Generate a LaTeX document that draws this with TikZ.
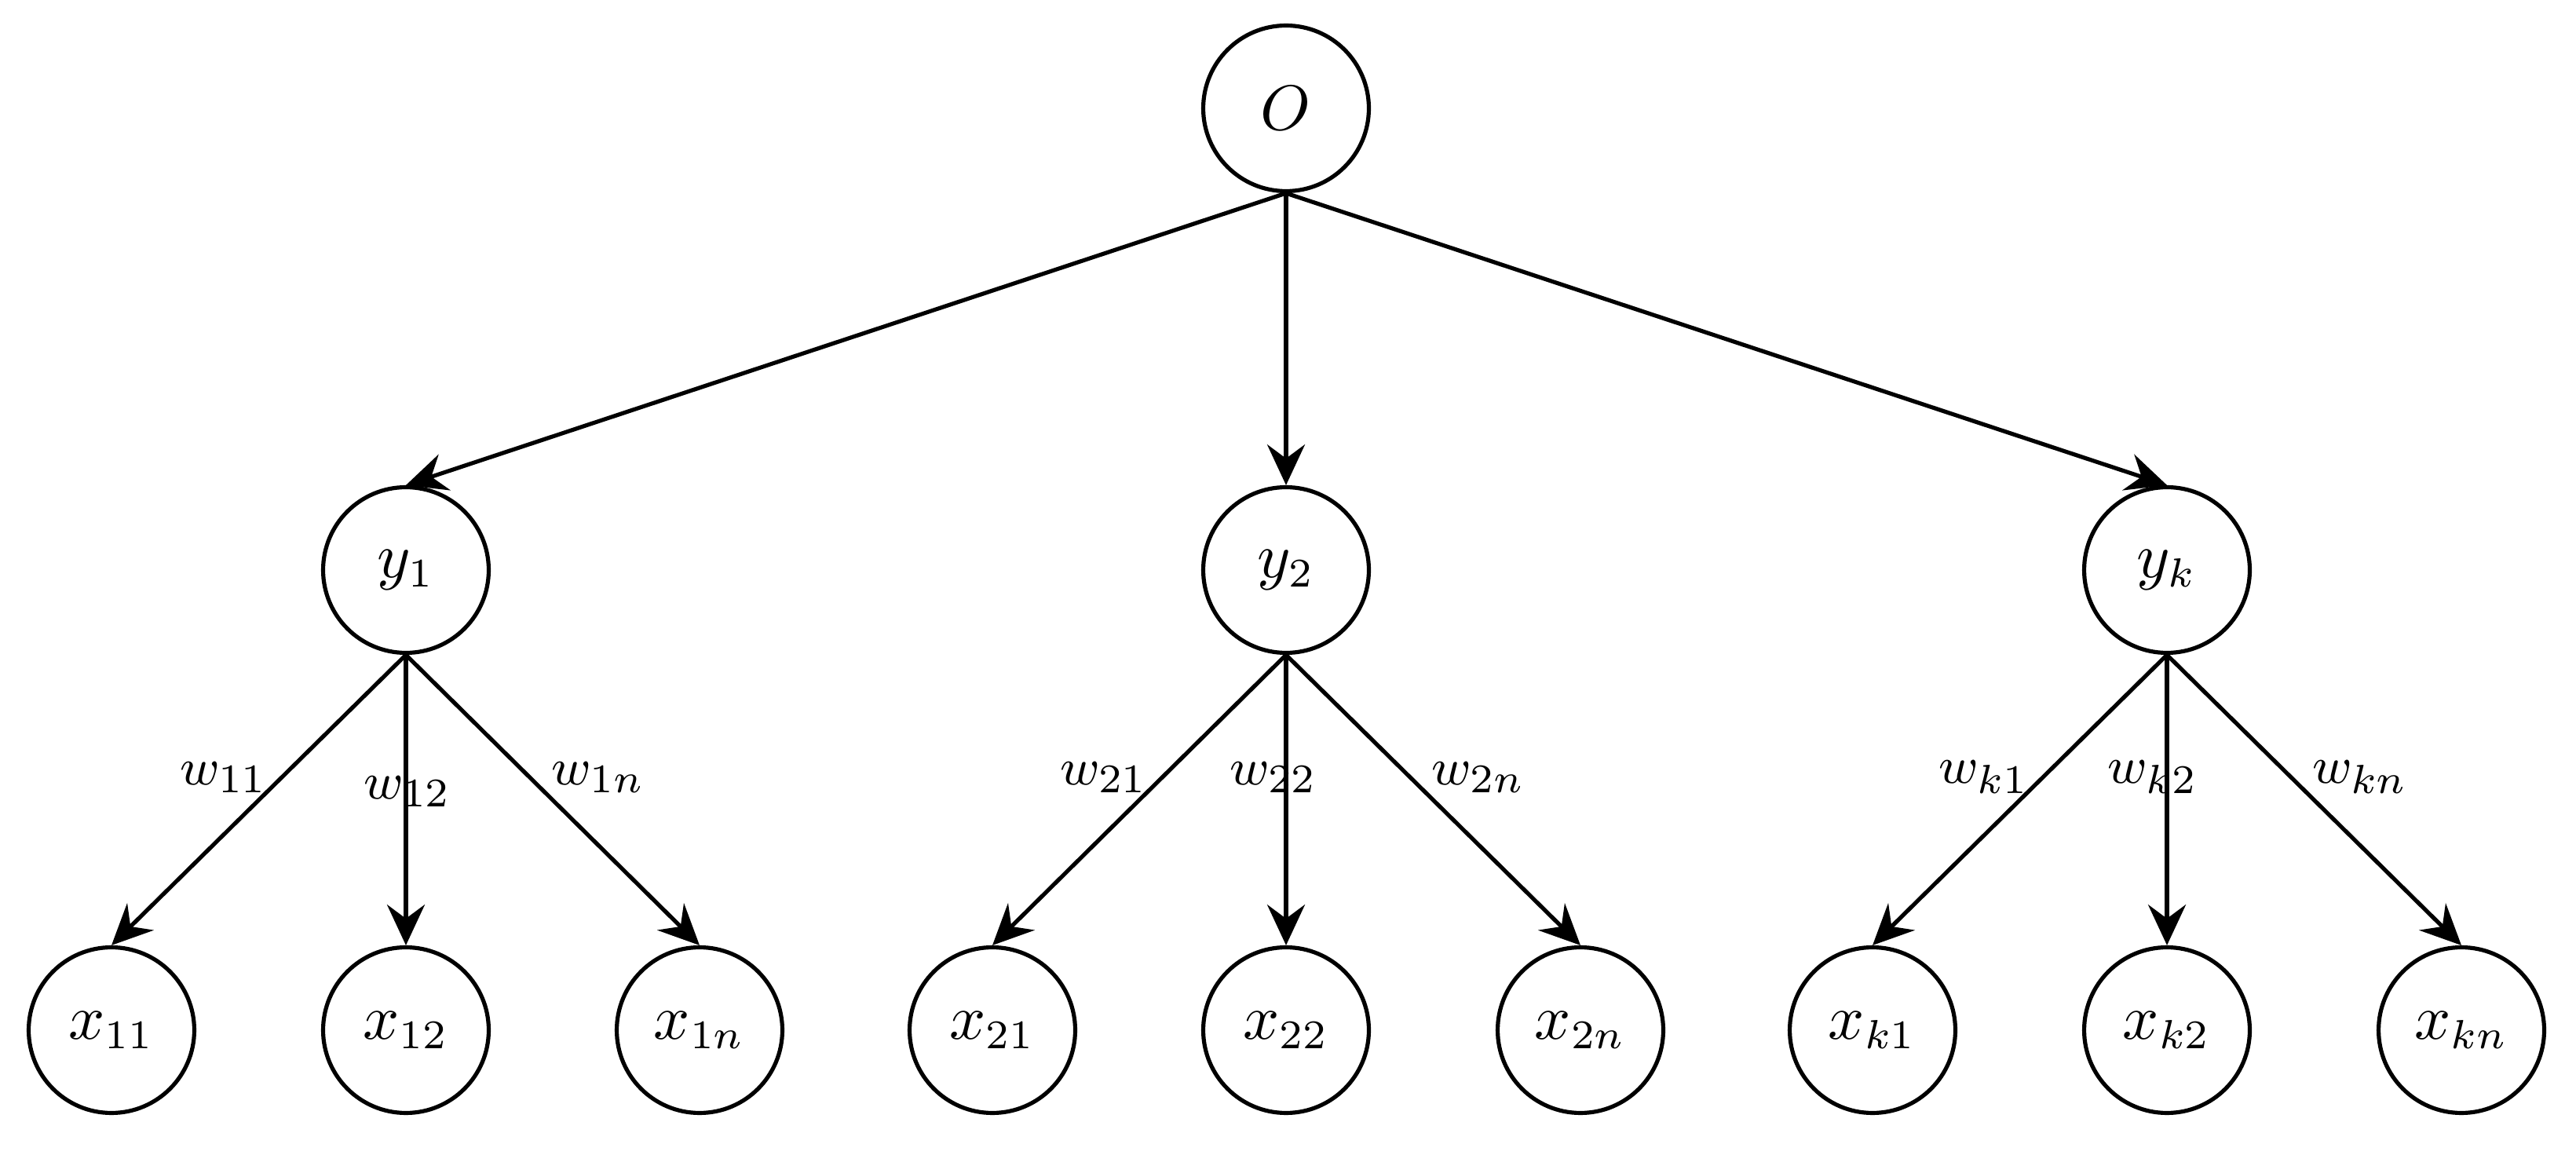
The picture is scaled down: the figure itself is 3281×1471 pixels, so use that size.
\documentclass[tikz,border=0pt]{standalone}
\usetikzlibrary{arrows.meta}
\begin{document}
\begin{tikzpicture}[x=0.1351pt,y=-0.1351pt,
  nd/.style={circle,draw,line width=0.7pt,minimum size=28.5pt,inner sep=0pt,font=\fontsize{10.5}{12}\selectfont},
  arr/.style={-{Stealth[length=7pt,width=6.5pt,inset=2.4pt]},line width=0.7pt},
  lbl/.style={font=\fontsize{9.5}{11}\selectfont,inner sep=0pt}]
\useasboundingbox (0,0) rectangle (3281,1471);
\node[nd] (O) at (1638,138) {$O$};
\node[nd] (y1) at (517,726) {$y_1$};
\node[nd] (y2) at (1638,726) {$y_2$};
\node[nd] (yk) at (2760,726) {$y_k$};
\node[nd] (x11) at (142,1312) {$x_{11}$};
\node[nd] (x12) at (517,1312) {$x_{12}$};
\node[nd] (x1n) at (891,1312) {$x_{1n}$};
\node[nd] (x21) at (1264,1312) {$x_{21}$};
\node[nd] (x22) at (1638,1312) {$x_{22}$};
\node[nd] (x2n) at (2013,1312) {$x_{2n}$};
\node[nd] (xk1) at (2385,1312) {$x_{k1}$};
\node[nd] (xk2) at (2760,1312) {$x_{k2}$};
\node[nd] (xkn) at (3135,1312) {$x_{kn}$};
\draw[arr] (O.south) -- (y1.north);
\draw[arr] (O.south) -- (y2.north);
\draw[arr] (O.south) -- (yk.north);
\draw[arr] (y1.south) -- (x11.north);
\draw[arr] (y1.south) -- (x12.north);
\draw[arr] (y1.south) -- (x1n.north);
\draw[arr] (y2.south) -- (x21.north);
\draw[arr] (y2.south) -- (x22.north);
\draw[arr] (y2.south) -- (x2n.north);
\draw[arr] (yk.south) -- (xk1.north);
\draw[arr] (yk.south) -- (xk2.north);
\draw[arr] (yk.south) -- (xkn.north);
\node[lbl] (w11) at (285,990) {$w_{11}$};
\node[lbl] (w12) at (519,1008) {$w_{12}$};
\node[lbl] (w1n) at (762,990) {$w_{1n}$};
\node[lbl] (w21) at (1406,990) {$w_{21}$};
\node[lbl] (w22) at (1622,990) {$w_{22}$};
\node[lbl] (w2n) at (1883,990) {$w_{2n}$};
\node[lbl] (wk1) at (2527,990) {$w_{k1}$};
\node[lbl] (wk2) at (2742,990) {$w_{k2}$};
\node[lbl] (wkn) at (3006,990) {$w_{kn}$};
\end{tikzpicture}
\end{document}
